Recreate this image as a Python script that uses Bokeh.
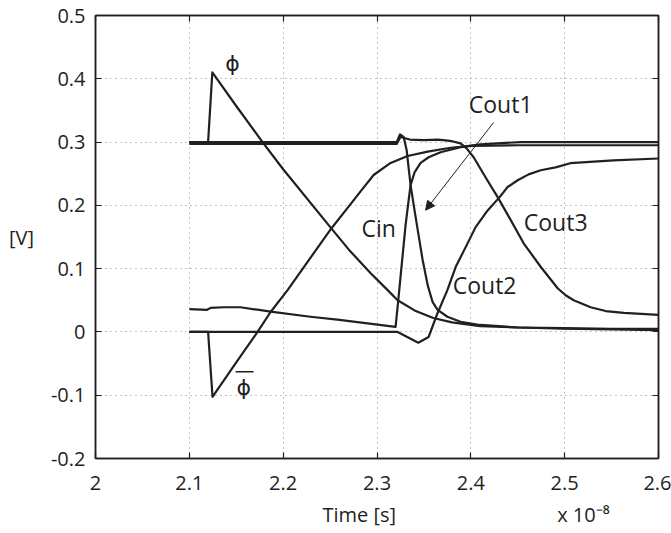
from bokeh.plotting import figure
from bokeh.models import (FixedTicker, LinearAxis, Label, Arrow, NormalHead,
                          BoxAnnotation, Range1d, Title)
from bokeh.embed import file_html
from bokeh.resources import INLINE

# ---- axis ticks (time in units of 1e-8 s) ----
x_ticks = [2.0, 2.1, 2.2, 2.3, 2.4, 2.5, 2.6]
x_tick_labels = ["2", "2.1", "2.2", "2.3", "2.4", "2.5", "2.6"]
y_ticks = [-0.2, -0.1, 0.0, 0.1, 0.2, 0.3, 0.4, 0.5]
y_tick_labels = ["-0.2", "-0.1", "0", "0.1", "0.2", "0.3", "0.4", "0.5"]

# ---- series (t in 1e-8 s, V in volts) ----
phi_t = [2.1, 2.12, 2.1245, 2.15, 2.178, 2.2, 2.25, 2.27, 2.293, 2.31, 2.322,
         2.34, 2.36, 2.38, 2.41, 2.45, 2.5, 2.55, 2.6]
phi_v = [0.3, 0.3, 0.41, 0.357, 0.30, 0.257, 0.166, 0.13, 0.093, 0.068, 0.050,
         0.034, 0.022, 0.015, 0.009, 0.007, 0.006, 0.005, 0.005]

phibar_t = [2.1, 2.12, 2.1247, 2.15, 2.1727, 2.1866, 2.2047, 2.25, 2.2687,
            2.2825, 2.2964, 2.3145, 2.3326, 2.354, 2.3785, 2.40, 2.45, 2.6]
phibar_v = [0.0, 0.0, -0.1025, -0.048, 0.0, 0.0315, 0.066, 0.161, 0.196,
            0.222, 0.248, 0.267, 0.278, 0.285, 0.291, 0.294, 0.295, 0.295]

cin_t = [2.1, 2.119, 2.1226, 2.1365, 2.1546, 2.1866, 2.229, 2.26, 2.3198,
         2.323, 2.3273, 2.3305, 2.3337, 2.3358, 2.34, 2.3465, 2.355, 2.3678,
         2.389, 2.41, 2.453, 2.6]
cin_v = [0.036, 0.035, 0.038, 0.039, 0.039, 0.032, 0.024, 0.019, 0.008,
         0.055, 0.121, 0.169, 0.208, 0.232, 0.252, 0.267, 0.276, 0.284,
         0.292, 0.2965, 0.3, 0.3]

cout1_t = [2.1, 2.321, 2.3245, 2.3284, 2.3316, 2.3358, 2.34, 2.3443, 2.3486,
           2.354, 2.3593, 2.3646, 2.375, 2.389, 2.41, 2.45, 2.5, 2.6]
cout1_v = [0.3, 0.3, 0.312, 0.308, 0.287, 0.232, 0.192, 0.153, 0.114,
           0.074, 0.047, 0.035, 0.024, 0.016, 0.011, 0.007, 0.005, 0.003]

cout2_t = [2.1, 2.322, 2.344, 2.355, 2.3646, 2.375, 2.3838, 2.3945, 2.4051,
           2.4179, 2.4307, 2.4392, 2.4499, 2.4616, 2.4744, 2.4904, 2.506,
           2.552, 2.6]
cout2_v = [0.0, 0.0, -0.017, -0.008, 0.03, 0.066, 0.1025, 0.134, 0.1656,
           0.192, 0.213, 0.229, 0.2397, 0.249, 0.2555, 0.26, 0.2666,
           0.271, 0.274]

cout3_t = [2.1, 2.321, 2.325, 2.335, 2.35, 2.365, 2.378, 2.389, 2.3955, 2.403,
           2.4158, 2.4286, 2.4424, 2.4563, 2.4744, 2.4925, 2.501, 2.5096,
           2.5277, 2.5437, 2.563, 2.6]
cout3_v = [0.297, 0.297, 0.308, 0.304, 0.303, 0.304, 0.302, 0.298, 0.29, 0.276,
           0.244, 0.213, 0.177, 0.140, 0.103, 0.069, 0.058, 0.050,
           0.039, 0.033, 0.030, 0.027]

series = [(phi_t, phi_v), (phibar_t, phibar_v), (cin_t, cin_v),
          (cout1_t, cout1_v), (cout2_t, cout2_v), (cout3_t, cout3_v)]

INK = "#231f20"
FONT = "Open Sans"

p = figure(width=671, height=533, x_range=Range1d(2.0, 2.6),
           y_range=Range1d(-0.2, 0.5), output_backend="svg",
           toolbar_location=None, min_border_left=95, min_border_right=13,
           min_border_top=15, min_border_bottom=74)
p.background_fill_color = "white"
p.border_fill_color = "white"
p.outline_line_color = INK
p.outline_line_width = 1.5

for t, v in series:
    p.line(t, v, line_color=INK, line_width=2.2, line_join="round")

def style_axis(ax, ticks, labels, show_labels=True):
    ax.ticker = FixedTicker(ticks=ticks)
    ax.major_label_overrides = {tk: lb for tk, lb in zip(ticks, labels)}
    ax.major_tick_in = 6
    ax.major_tick_out = 0
    ax.minor_tick_line_color = None
    ax.axis_line_color = INK
    ax.axis_line_width = 1.5
    ax.major_tick_line_color = INK
    ax.major_tick_line_width = 1.2
    ax.major_label_text_font = FONT
    ax.major_label_text_color = INK
    ax.major_label_text_font_size = "20px" if show_labels else "0px"
    if not show_labels:
        ax.major_label_text_alpha = 0

style_axis(p.xaxis[0], x_ticks, x_tick_labels)
style_axis(p.yaxis[0], y_ticks, y_tick_labels)
p.xaxis[0].major_label_standoff = 17
p.yaxis[0].major_label_standoff = 10

p.yaxis[0].axis_label = "[V]"
p.yaxis[0].axis_label_orientation = "horizontal"
p.yaxis[0].axis_label_text_font = FONT
p.yaxis[0].axis_label_text_font_style = "normal"
p.yaxis[0].axis_label_text_font_size = "20px"
p.yaxis[0].axis_label_text_color = INK
p.yaxis[0].axis_label_standoff = 14

top_ax = LinearAxis()
right_ax = LinearAxis()
style_axis(top_ax, x_ticks, x_tick_labels, show_labels=False)
style_axis(right_ax, y_ticks, y_tick_labels, show_labels=False)
p.add_layout(top_ax, "above")
p.add_layout(right_ax, "right")

for g in (p.xgrid[0], p.ygrid[0]):
    g.grid_line_color = "#8a8a8a"
    g.grid_line_dash = "1 4"
    g.grid_line_width = 1
p.xgrid[0].ticker = FixedTicker(ticks=x_ticks)
p.ygrid[0].ticker = FixedTicker(ticks=y_ticks)

def add_text(x, y, text, size="23px", font=FONT, align="center"):
    p.add_layout(Label(x=x, y=y, text=text, text_font=font,
                       text_font_size=size, text_color=INK,
                       text_align=align, text_baseline="middle"))

add_text(2.146, 0.424, "ϕ", size="22px", font="DejaVu Sans")
add_text(2.158, -0.088, "ϕ", size="22px", font="DejaVu Sans")
p.add_layout(BoxAnnotation(left=2.1493, right=2.1684, bottom=-0.0643,
                           top=-0.0618, fill_color=INK, fill_alpha=1,
                           line_alpha=0))
add_text(2.3017, 0.164, "Cin")
add_text(2.4318, 0.36, "Cout1")
add_text(2.4147, 0.074, "Cout2")
add_text(2.4904, 0.1735, "Cout3")

p.add_layout(Arrow(x_start=2.4243, y_start=0.331, x_end=2.3518, y_end=0.1924,
                   line_color=INK, line_width=1,
                   end=NormalHead(size=9, fill_color=INK, line_color=INK)))

# x-axis title and exponent, in the panel below the axis
gap = "\u00a0" * 31
p.add_layout(Title(text="Time [s]" + gap + "x 10\u207b\u2078", align="left",
                   offset=227, standoff=12, text_font=FONT,
                   text_font_size="20px", text_font_style="normal",
                   text_color=INK), "below")

open("out.html", "w").write(file_html(p, INLINE))
